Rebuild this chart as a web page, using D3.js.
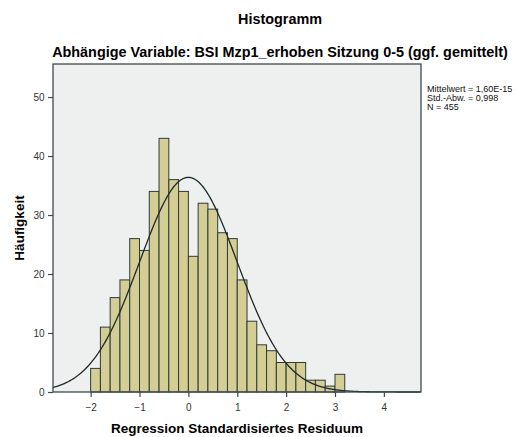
<!DOCTYPE html>
<html><head><meta charset="utf-8">
<script src="https://cdn.jsdelivr.net/npm/d3@7"></script>
<style>body{margin:0;background:#fff;}svg{display:block;}</style>
</head><body>
<script>
const binStart = -2.0;
const binWidth = 0.2;
const counts = [4,11,16,19,26,24,34,43,36,34,23,32,31,27,26,19,12,8,7,5,5,5,2,2,1,3];
const xTicks = [-2,-1,0,1,2,3,4];
const yTicks = [0,10,20,30,40,50];
const meanVal = 0, sdVal = 0.998, nVal = 455;
const legendLines = ["Mittelwert = 1,60E-15","Std.-Abw. = 0,998","N = 455"];

const W = 518, H = 437;
const m = {left:53, top:64, right:421, bottom:392};
const svg = d3.select("body").append("svg").attr("width",W).attr("height",H);
const font = "Arial, 'Liberation Sans', sans-serif";

const x = d3.scaleLinear().domain([-2.77,4.76]).range([m.left,m.right]);
const y = d3.scaleLinear().domain([0,55.6]).range([m.bottom,m.top]);

svg.append("rect").attr("x",m.left).attr("y",m.top).attr("width",m.right-m.left).attr("height",m.bottom-m.top)
  .attr("fill","#eef0f0");

const bins = counts.map((c,i)=>({x0:binStart+i*binWidth, x1:binStart+(i+1)*binWidth, c}));
svg.append("g").selectAll("rect").data(bins).join("rect")
  .attr("x",d=>x(d.x0)).attr("y",d=>y(d.c))
  .attr("width",d=>x(d.x1)-x(d.x0)).attr("height",d=>y(0)-y(d.c))
  .attr("fill","#d4cd94").attr("stroke","#2e3b3b").attr("stroke-width",1);

const pdf = v => nVal*binWidth/(sdVal*Math.sqrt(2*Math.PI))*Math.exp(-0.5*((v-meanVal)/sdVal)**2);
const pts = d3.range(-2.77,4.76,0.02).map(v=>[v,pdf(v)]);
svg.append("path").datum(pts).attr("fill","none").attr("stroke","#1e2a2a").attr("stroke-width",1.3)
  .attr("d",d3.line().x(d=>x(d[0])).y(d=>y(d[1])));

// frame
svg.append("rect").attr("x",m.left).attr("y",m.top).attr("width",m.right-m.left).attr("height",m.bottom-m.top)
  .attr("fill","none").attr("stroke","#3d4a4e").attr("stroke-width",1.3);

const xAxis = svg.append("g").attr("transform",`translate(0,${m.bottom})`)
  .call(d3.axisBottom(x).tickValues(xTicks).tickSize(5).tickSizeOuter(0).tickFormat(d3.format("d")));
const yAxis = svg.append("g").attr("transform",`translate(${m.left},0)`)
  .call(d3.axisLeft(y).tickValues(yTicks).tickSize(5).tickSizeOuter(0).tickFormat(d3.format("d")));
[xAxis,yAxis].forEach(a=>{
  a.select(".domain").remove();
  a.selectAll("line").attr("stroke","#3d4a4e").attr("stroke-width",1.2);
  a.selectAll("text").attr("font-family",font).attr("font-size",10).attr("fill","#333");
});
xAxis.selectAll("text").attr("dy","1.1em");
yAxis.selectAll("text").attr("dx","-0.05em");

svg.append("text").attr("x",280).attr("y",24).attr("text-anchor","middle")
  .attr("font-family",font).attr("font-weight","bold").attr("font-size",14.4).text("Histogramm");
svg.append("text").attr("x",280).attr("y",57).attr("text-anchor","middle")
  .attr("font-family",font).attr("font-weight","bold").attr("font-size",14.4)
  .text("Abhängige Variable: BSI Mzp1_erhoben Sitzung 0-5 (ggf. gemittelt)");
svg.append("text").attr("x",237).attr("y",433).attr("text-anchor","middle")
  .attr("font-family",font).attr("font-weight","bold").attr("font-size",13.5)
  .text("Regression Standardisiertes Residuum");
svg.append("text").attr("transform","translate(24,228) rotate(-90)").attr("text-anchor","middle")
  .attr("font-family",font).attr("font-weight","bold").attr("font-size",13.5).text("Häufigkeit");

svg.append("g").selectAll("text").data(legendLines).join("text")
  .attr("x",427).attr("y",(d,i)=>92+i*9)
  .attr("font-family",font).attr("font-size",9).attr("fill","#111").text(d=>d);
</script>
</body></html>
